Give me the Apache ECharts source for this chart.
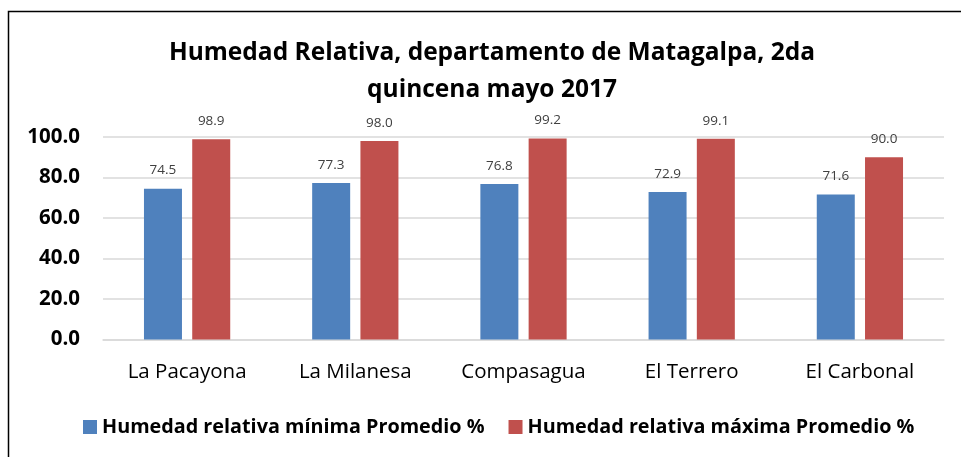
<!DOCTYPE html>
<html>
<head>
<meta charset="utf-8">
<script src="https://cdn.jsdelivr.net/npm/echarts@6/dist/echarts.min.js"></script>
<style>
  html, body { margin: 0; padding: 0; background: #fff; }
  #chart { width: 961px; height: 457px; }
</style>
</head>
<body>
<div id="chart"></div>
<script>
const categories = ['La Pacayona', 'La Milanesa', 'Compasagua', 'El Terrero', 'El Carbonal'];
const humedadMinima = [74.5, 77.3, 76.8, 72.9, 71.6];
const humedadMaxima = [98.9, 98.0, 99.2, 99.1, 90.0];
const seriesNames = ['Humedad relativa mínima Promedio %', 'Humedad relativa máxima Promedio %'];

const font = '"Open Sans", "DejaVu Sans", sans-serif';

const chart = echarts.init(document.getElementById('chart'));

const option = {
  animation: false,
  textStyle: { fontFamily: font },
  title: {
    text: 'Humedad Relativa, departamento de Matagalpa, 2da\nquincena mayo 2017',
    left: 487,
    textAlign: 'center',
    top: 30,
    textStyle: { fontSize: 24.5, fontWeight: 'bold', color: '#000', lineHeight: 37, fontFamily: font }
  },
  // frame around the chart (right and bottom edges fall outside the picture)
  graphic: [{
    type: 'rect',
    shape: { x: 8.5, y: 11.5, width: 1000, height: 500 },
    style: { fill: 'none', stroke: '#000', lineWidth: 1.5 },
    silent: true
  }],
  legend: {
    top: 412,
    left: 78,
    itemWidth: 14,
    itemHeight: 14,
    itemGap: 24,
    icon: 'rect',
    textStyle: { fontSize: 19.8, fontWeight: 'bold', color: '#000', fontFamily: font },
    data: seriesNames
  },
  grid: { left: 103, right: 17, top: 137, bottom: 117.5 },
  xAxis: {
    type: 'category',
    data: categories,
    axisLine: { lineStyle: { color: '#d9d9d9', width: 1.5 } },
    axisTick: { show: false },
    axisLabel: { fontSize: 20.5, color: '#000', margin: 22, fontFamily: font }
  },
  yAxis: {
    type: 'value',
    min: 0,
    max: 100,
    interval: 20,
    axisLine: { show: false },
    axisTick: { show: false },
    splitLine: { lineStyle: { color: '#d9d9d9', width: 1.5 } },
    axisLabel: {
      fontSize: 20.5, fontWeight: 'bold', color: '#000', margin: 23, fontFamily: font,
      formatter: v => v.toFixed(1)
    }
  },
  series: [
    {
      name: seriesNames[0],
      type: 'bar',
      data: humedadMinima,
      barWidth: 38,
      barGap: '27%',
      itemStyle: { color: '#4F81BD' },
      label: {
        show: true, position: 'top', distance: 11,
        fontSize: 13.5, color: '#404040', formatter: p => p.value.toFixed(1)
      }
    },
    {
      name: seriesNames[1],
      type: 'bar',
      data: humedadMaxima,
      barWidth: 38,
      itemStyle: { color: '#C0504D' },
      label: {
        show: true, position: 'top', distance: 11,
        fontSize: 13.5, color: '#404040', formatter: p => p.value.toFixed(1)
      }
    }
  ]
};

chart.setOption(option);
</script>
</body>
</html>
